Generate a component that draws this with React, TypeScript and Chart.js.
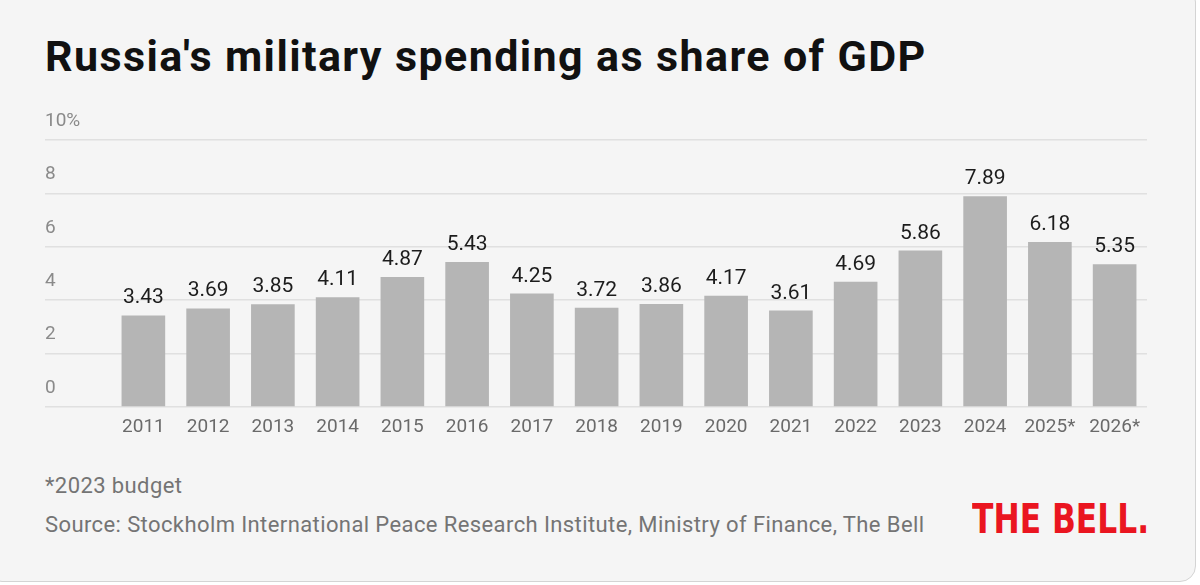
import React, { useEffect, useRef } from "react";
import { Chart, registerables } from "chart.js";

Chart.register(...registerables);

const title = "Russia's military spending as share of GDP";
const footnote = "*2023 budget";
const sourceText =
  "Source: Stockholm International Peace Research Institute, Ministry of Finance, The Bell";
const logoText = "THE BELL.";

const categories = [
  "2011", "2012", "2013", "2014", "2015", "2016", "2017", "2018",
  "2019", "2020", "2021", "2022", "2023", "2024", "2025*", "2026*",
];
const values = [
  3.43, 3.69, 3.85, 4.11, 4.87, 5.43, 4.25, 3.72,
  3.86, 4.17, 3.61, 4.69, 5.86, 7.89, 6.18, 5.35,
];
const yTickValues = [0, 2, 4, 6, 8, 10];
const yTickLabels = ["0", "2", "4", "6", "8", "10%"];

const FONT = "Roboto, 'Noto Sans', sans-serif";

const valueLabels = {
  id: "valueLabels",
  afterDatasetsDraw(chart: any) {
    const ctx = chart.ctx;
    const meta = chart.getDatasetMeta(0);
    ctx.save();
    ctx.font = `400 21px ${FONT}`;
    ctx.fillStyle = "#1c1c1c";
    ctx.textAlign = "center";
    ctx.textBaseline = "alphabetic";
    meta.data.forEach((bar: any, i: number) => {
      const v = chart.data.datasets[0].data[i] as number;
      ctx.fillText(v.toFixed(2), bar.x, bar.y - 12);
    });
    ctx.restore();
  },
};

function BarChart() {
  const ref = useRef<HTMLCanvasElement | null>(null);
  useEffect(() => {
    if (!ref.current) return;
    const chart = new Chart(ref.current, {
      type: "bar",
      data: {
        labels: categories,
        datasets: [
          {
            data: values,
            backgroundColor: "#b5b5b5",
            borderWidth: 0,
            categoryPercentage: 1,
            barPercentage: 0.674,
          },
        ],
      },
      options: {
        animation: false,
        responsive: false,
        devicePixelRatio: 1,
        layout: { padding: { left: 45, right: 53, top: 140, bottom: 13 } },
        plugins: {
          legend: { display: false },
          tooltip: { enabled: false },
          title: { display: false },
        },
        scales: {
          x: {
            type: "category",
            offset: true,
            grid: { display: false, drawTicks: false },
            border: { display: false },
            ticks: {
              color: "#6a6a6a",
              font: { family: FONT, size: 19 },
              padding: 9,
              maxRotation: 0,
              autoSkip: false,
            },
            afterFit: (s: any) => {
              s.height = 40;
            },
          },
          y: {
            min: 0,
            max: 10,
            position: "left",
            border: { display: false },
            grid: {
              color: "#e0e0e0",
              lineWidth: 1.5,
              drawTicks: true,
              tickLength: 66,
              tickColor: "#e0e0e0",
            },
            ticks: {
              stepSize: 2,
              color: "#8a8a8a",
              font: { family: FONT, size: 19 },
              crossAlign: "far",
              labelOffset: -19,
              callback: (value: any) => {
                const i = yTickValues.indexOf(Number(value));
                return i >= 0 ? yTickLabels[i] : "";
              },
            },
            afterFit: (s: any) => {
              s.width = 66;
            },
          },
        },
      },
      plugins: [valueLabels],
    } as any);
    return () => chart.destroy();
  }, []);
  return (
    <canvas
      ref={ref}
      width={1200}
      height={460}
      style={{ position: "absolute", left: 0, top: 0, width: 1200, height: 460 }}
    />
  );
}

export default function App() {
  return (
    <div
      style={{
        position: "absolute",
        left: 0,
        top: 0,
        width: 1200,
        height: 585,
        overflow: "hidden",
        background: "#ffffff",
        fontFamily: FONT,
      }}
    >
      <div
        style={{
          position: "absolute",
          left: -14,
          top: -14,
          width: 1208,
          height: 594,
          border: "1px solid #d4d4d4",
          borderRadius: 16,
          background: "#f5f5f5",
        }}
      />
      <div
        style={{
          position: "absolute",
          left: 45,
          top: 34.8,
          fontSize: 43,
          lineHeight: "43px",
          fontWeight: 700,
          color: "#111111",
          whiteSpace: "nowrap",
          letterSpacing: 1.4,
        }}
      >
        {title}
      </div>
      <BarChart />
      <div
        style={{
          position: "absolute",
          left: 45,
          top: 474.5,
          fontSize: 22,
          lineHeight: "22px",
          color: "#747474",
          whiteSpace: "nowrap",
          letterSpacing: 0.4,
        }}
      >
        {footnote}
      </div>
      <div
        style={{
          position: "absolute",
          left: 45,
          top: 514.2,
          fontSize: 22,
          lineHeight: "22px",
          color: "#747474",
          whiteSpace: "nowrap",
          letterSpacing: 0.4,
        }}
      >
        {sourceText}
      </div>
      <div
        style={{
          position: "absolute",
          left: 972,
          top: 498.6,
          fontSize: 41,
          lineHeight: "41px",
          fontWeight: 700,
          color: "#ea1520",
          whiteSpace: "nowrap",
          transform: "scaleX(0.85)",
          transformOrigin: "left center",
          fontFamily: "'DejaVu Sans Condensed', 'DejaVu Sans', sans-serif",
        }}
      >
        {logoText}
      </div>
    </div>
  );
}
